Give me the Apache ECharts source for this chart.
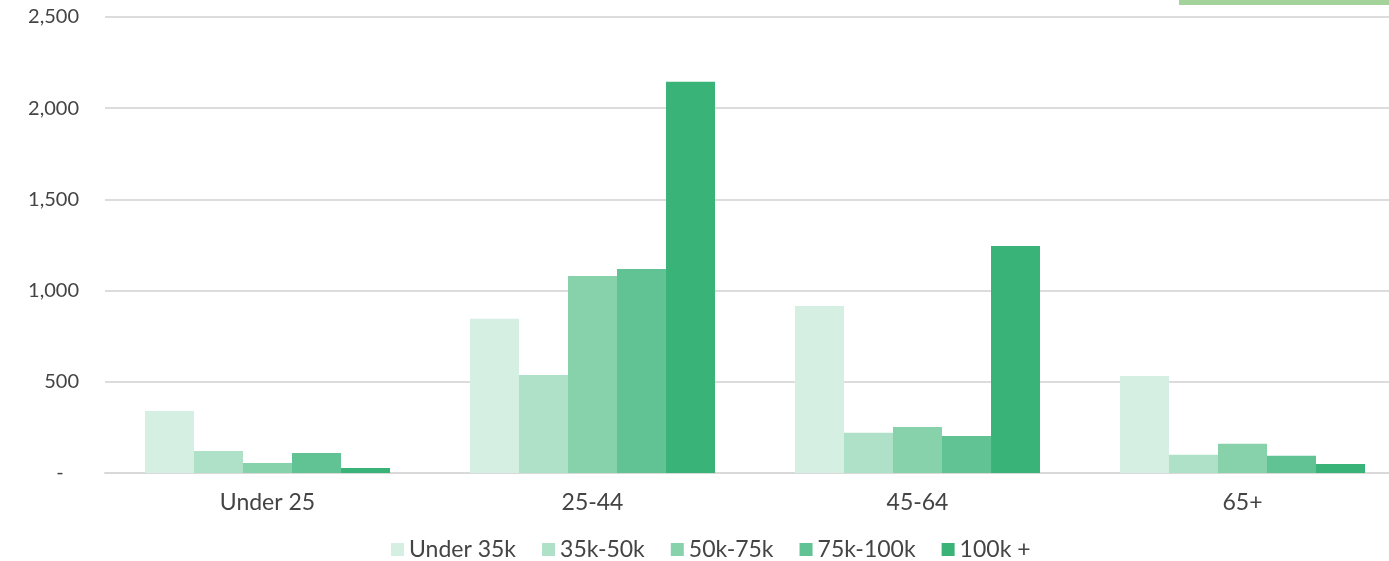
<!DOCTYPE html>
<html>
<head>
<meta charset="utf-8">
<script src="https://cdn.jsdelivr.net/npm/echarts@6/dist/echarts.min.js"></script>
<style>
  html, body { margin: 0; padding: 0; background: #fff; }
  #chart { width: 1389px; height: 561px; }
</style>
</head>
<body>
<div id="chart"></div>
<script>
// age groups on the x axis
var ageGroups = ['Under 25', '25-44', '45-64', '65+'];
// income bands (one series each)
var incomeBands = ['Under 35k', '35k-50k', '50k-75k', '75k-100k', '100k +'];
var under35k = [340, 845, 915, 532];
var k35to50 = [120, 537, 220, 100];
var k50to75 = [55, 1080, 252, 160];
var k75to100 = [110, 1118, 203, 95];
var k100plus = [27, 2145, 1245, 50];
var yTicks = [0, 500, 1000, 1500, 2000, 2500];

var colors = ['#d5efe2', '#afe0c8', '#88d2ab', '#61c394', '#3ab378'];
var seriesData = [under35k, k35to50, k50to75, k75to100, k100plus];

var chart = echarts.init(document.getElementById('chart'));

var series = incomeBands.map(function (name, i) {
  return {
    name: name,
    type: 'bar',
    data: seriesData[i],
    barGap: '0%',
    barCategoryGap: '24.6%',
    itemStyle: { color: colors[i] }
  };
});

chart.setOption({
  animation: false,
  color: colors,
  textStyle: { fontFamily: 'Lato' },
  // plot area runs a little past the right edge, as in the original
  grid: { left: 105, width: 1300, top: 17, bottom: 88, outerBoundsMode: 'none', containLabel: false },
  legend: {
    data: incomeBands,
    top: 533,
    left: 386,
    icon: 'rect',
    itemWidth: 13,
    itemHeight: 13,
    itemGap: 26,
    textStyle: { fontSize: 23, color: '#444' }
  },
  xAxis: {
    type: 'category',
    data: ageGroups,
    axisLine: { lineStyle: { color: '#d9d9d9', width: 2 } },
    axisTick: { show: false },
    axisLabel: { fontSize: 23, color: '#444', margin: 18 }
  },
  yAxis: {
    type: 'value',
    min: yTicks[0],
    max: yTicks[yTicks.length - 1],
    interval: 500,
    axisLine: { show: false },
    axisTick: { show: false },
    splitLine: { lineStyle: { color: '#dcdcdc', width: 2 } },
    axisLabel: {
      fontSize: 20,
      color: '#444',
      margin: 26,
      formatter: function (v) {
        // zero is shown as a dash, set in from the right like accounting format
        return v === 0 ? '-   ' : v.toLocaleString('en-US');
      }
    }
  },
  graphic: [{
    type: 'rect',
    shape: { x: 1179, y: 0, width: 210, height: 5 },
    style: { fill: '#a3d39b' }
  }],
  series: series
});
</script>
</body>
</html>
